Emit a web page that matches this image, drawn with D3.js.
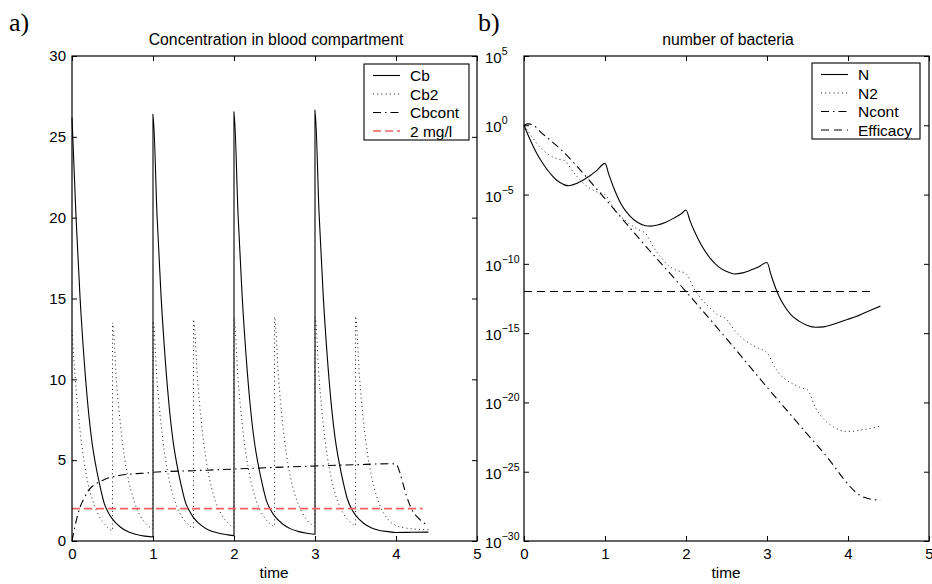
<!DOCTYPE html>
<html><head><meta charset="utf-8">
<script src="https://cdn.jsdelivr.net/npm/d3@7"></script>
<style>body{margin:0;background:#fff}svg{display:block}</style>
</head><body><svg id="c" width="932" height="584"></svg>
<script>
// ---------- data: panel a (concentration, mg/l) ----------
const xTicks = [0, 1, 2, 3, 4, 5];
const yTicksA = [0, 5, 10, 15, 20, 25, 30];
const legendA = ["Cb", "Cb2", "Cbcont", "2 mg/l"];
const cbTime = [0,0.05,0.1,0.15,0.2,0.25,0.3,0.35,0.4,0.45,0.5,0.6,0.7,0.8,0.9,1.0,
  1.0,1.05,1.1,1.15,1.2,1.25,1.3,1.35,1.4,1.45,1.5,1.6,1.7,1.8,1.9,2.0,
  2.0,2.05,2.1,2.15,2.2,2.25,2.3,2.35,2.4,2.45,2.5,2.6,2.7,2.8,2.9,3.0,
  3.0,3.05,3.1,3.15,3.2,3.25,3.3,3.35,3.4,3.45,3.5,3.6,3.7,3.8,3.9,4.0,4.2,4.4];
const cbValue = [26.2,20.0,15.0,11.2,8.2,6.0,4.5,3.3,2.3,1.75,1.35,0.85,0.55,0.4,0.3,0.25,
  26.4,20.1,15.1,11.3,8.3,6.1,4.6,3.4,2.4,1.85,1.45,0.95,0.65,0.5,0.4,0.33,
  26.55,20.2,15.2,11.4,8.4,6.2,4.7,3.5,2.5,1.95,1.55,1.05,0.75,0.58,0.48,0.42,
  26.65,20.3,15.3,11.5,8.5,6.3,4.8,3.6,2.6,2.0,1.6,1.1,0.8,0.65,0.58,0.53,0.54,0.55];
const cb2Time = [0,0.05,0.1,0.15,0.2,0.25,0.3,0.35,0.4,0.45,0.5,
  0.5,0.55,0.6,0.65,0.7,0.75,0.8,0.85,0.9,0.95,1.0,
  1.0,1.05,1.1,1.15,1.2,1.25,1.3,1.35,1.4,1.45,1.5,
  1.5,1.55,1.6,1.65,1.7,1.75,1.8,1.85,1.9,1.95,2.0,
  2.0,2.05,2.1,2.15,2.2,2.25,2.3,2.35,2.4,2.45,2.5,
  2.5,2.55,2.6,2.65,2.7,2.75,2.8,2.85,2.9,2.95,3.0,
  3.0,3.05,3.1,3.15,3.2,3.25,3.3,3.35,3.4,3.45,3.5,
  3.5,3.55,3.6,3.65,3.7,3.75,3.8,3.85,3.9,3.95,4.0,4.1,4.2,4.3,4.4];
const cb2Value = [13.0,9.4,6.8,4.9,3.5,2.6,1.9,1.4,1.05,0.8,0.65,
  13.5,9.8,7.1,5.1,3.7,2.75,2.0,1.5,1.15,0.9,0.75,
  13.6,9.9,7.2,5.2,3.8,2.8,2.05,1.55,1.2,0.95,0.8,
  13.7,10.0,7.2,5.2,3.8,2.8,2.1,1.6,1.25,1.0,0.85,
  13.8,10.0,7.3,5.3,3.9,2.9,2.15,1.65,1.3,1.05,0.9,
  13.85,10.1,7.3,5.3,3.9,2.9,2.2,1.7,1.3,1.05,0.9,
  13.85,10.1,7.3,5.3,3.9,2.9,2.2,1.7,1.35,1.1,0.95,
  13.9,10.1,7.35,5.35,3.95,2.95,2.2,1.7,1.35,1.1,0.95,0.82,0.75,0.72,0.7];
const cbcontTime = [0,0.05,0.1,0.15,0.2,0.3,0.4,0.5,0.6,0.7,0.8,0.9,1.0,1.5,2.0,2.5,3.0,3.5,3.95,4.0,4.05,4.1,4.15,4.2,4.25,4.3,4.35,4.4];
const cbcontValue = [0,1.2,2.1,2.65,3.1,3.55,3.8,3.97,4.07,4.13,4.17,4.2,4.25,4.35,4.45,4.55,4.64,4.72,4.78,4.75,4.2,3.3,2.5,1.9,1.55,1.3,1.1,0.95];
const thresholdTime = [0, 4.33];
const thresholdValue = [2, 2];

// ---------- data: panel b (number of bacteria, log10) ----------
const yTicksB = [5, 0, -5, -10, -15, -20, -25, -30];
const legendB = ["N", "N2", "Ncont", "Efficacy"];
const nTime = [0,0.05,0.1,0.15,0.2,0.25,0.3,0.35,0.4,0.45,0.5,0.55,0.6,0.7,0.8,0.9,1.0,
  1.05,1.1,1.15,1.2,1.3,1.4,1.5,1.56,1.65,1.75,1.85,1.95,2.0,
  2.05,2.1,2.15,2.2,2.3,2.4,2.5,2.6,2.7,2.8,2.9,3.0,
  3.05,3.1,3.15,3.2,3.3,3.4,3.5,3.6,3.7,3.8,3.9,4.0,4.1,4.2,4.3,4.4];
const nLog10 = [0,-0.7,-1.35,-1.95,-2.45,-2.9,-3.3,-3.65,-3.95,-4.15,-4.3,-4.36,-4.3,-4.05,-3.7,-3.25,-2.75,
  -3.6,-4.4,-5.1,-5.7,-6.5,-7.0,-7.25,-7.28,-7.2,-7.0,-6.7,-6.35,-6.11,
  -6.9,-7.6,-8.2,-8.75,-9.6,-10.2,-10.55,-10.73,-10.65,-10.45,-10.2,-9.9,
  -10.8,-11.65,-12.35,-12.9,-13.7,-14.15,-14.45,-14.58,-14.55,-14.4,-14.2,-14.0,-13.8,-13.55,-13.3,-13.05];
const n2Time = [0,0.1,0.2,0.3,0.4,0.5,0.6,0.7,0.8,0.9,1.0,1.1,1.2,1.3,1.4,1.5,1.6,1.7,1.8,1.9,2.0,
  2.1,2.2,2.3,2.4,2.5,2.6,2.7,2.8,2.9,3.0,3.1,3.2,3.3,3.4,3.5,3.6,3.7,3.8,3.9,4.0,4.1,4.2,4.3,4.4];
const n2Log10 = [0,-0.85,-1.6,-2.1,-2.4,-2.55,-3.3,-4.0,-4.5,-4.8,-5.0,-5.9,-6.6,-7.1,-7.5,-7.8,-8.8,-9.6,-10.2,-10.5,-10.7,
  -11.8,-12.6,-13.2,-13.7,-14.0,-14.8,-15.4,-15.8,-16.1,-16.4,-17.5,-18.2,-18.6,-18.9,-19.1,-20.4,-21.2,-21.7,-22.0,-22.1,-22.05,-21.95,-21.85,-21.7];
const ncontTime = [0,0.05,0.1,0.15,0.2,0.3,0.4,0.5,0.75,1.0,1.5,2.0,2.5,3.0,3.5,3.75,4.0,4.1,4.2,4.3,4.4];
const ncontLog10 = [0,0.1,0.05,-0.15,-0.45,-0.95,-1.45,-2.0,-3.6,-5.3,-8.7,-12.0,-15.4,-18.9,-22.3,-24.0,-25.9,-26.5,-26.85,-27.0,-27.05];
const efficacyTime = [0, 4.3];
const efficacyLog10 = [-12, -12];

// ---------- drawing ----------
const FONT = '"Liberation Sans", Arial, Helvetica, sans-serif';
const svg = d3.select("#c");
const W = 405, TOP = 56, BOT = 541;
const zip = (t, v) => t.map((d, i) => [d, v[i]]);

function frame(x0) {
  svg.append("rect").attr("x", x0).attr("y", TOP).attr("width", W).attr("height", BOT - TOP)
    .attr("fill", "none").attr("stroke", "#000").attr("stroke-width", 1.2);
}
function styleAxis(g) {
  g.select(".domain").remove();
  g.selectAll("line").attr("stroke", "#000");
  g.selectAll("text").attr("font-family", FONT).attr("font-size", 15).attr("fill", "#000");
}

// panel a
const xA = d3.scaleLinear().domain([0, 5]).range([72, 72 + W]);
const yA = d3.scaleLinear().domain([0, 30]).range([BOT, TOP]);
svg.append("g").attr("transform", `translate(0,${BOT})`)
  .call(d3.axisBottom(xA).tickValues(xTicks).tickSize(-5).tickPadding(7).tickFormat(d3.format("d"))).call(styleAxis);
svg.append("g").attr("transform", `translate(0,${TOP})`)
  .call(d3.axisTop(xA).tickValues(xTicks).tickSize(-5).tickFormat("")).call(styleAxis);
svg.append("g").attr("transform", `translate(72,0)`)
  .call(d3.axisLeft(yA).tickValues(yTicksA).tickSize(-5).tickPadding(6).tickFormat(d3.format("d"))).call(styleAxis);
svg.append("g").attr("transform", `translate(${72 + W},0)`)
  .call(d3.axisRight(yA).tickValues(yTicksA).tickSize(-5).tickFormat("")).call(styleAxis);

const lineA = d3.line().x(d => xA(d[0])).y(d => yA(d[1])).curve(d3.curveMonotoneX);
const stylesA = [
  {stroke: "#000", dash: null, w: 1.1},
  {stroke: "#222", dash: "1,3.2", w: 1},
  {stroke: "#000", dash: "8,4,1.5,4", w: 1.1},
  {stroke: "#f06262", dash: "8,4", w: 1.6}
];
const seriesA = [zip(cbTime, cbValue), zip(cb2Time, cb2Value), zip(cbcontTime, cbcontValue), zip(thresholdTime, thresholdValue)];
seriesA.forEach((s, i) => {
  svg.append("path").attr("d", (i === 3 ? d3.line().x(d => xA(d[0])).y(d => yA(d[1])) : lineA)(s))
    .attr("fill", "none").attr("stroke", stylesA[i].stroke).attr("stroke-width", stylesA[i].w)
    .attr("stroke-dasharray", stylesA[i].dash);
});
frame(72);

// panel b
const xB = d3.scaleLinear().domain([0, 5]).range([524, 524 + W]);
const yB = d3.scaleLog().domain([1e-30, 1e5]).range([BOT, TOP]);
const tickValsB = yTicksB.map(e => Math.pow(10, e));
svg.append("g").attr("transform", `translate(0,${BOT})`)
  .call(d3.axisBottom(xB).tickValues(xTicks).tickSize(-5).tickPadding(7).tickFormat(d3.format("d"))).call(styleAxis);
svg.append("g").attr("transform", `translate(0,${TOP})`)
  .call(d3.axisTop(xB).tickValues(xTicks).tickSize(-5).tickFormat("")).call(styleAxis);
const gLB = svg.append("g").attr("transform", `translate(524,0)`)
  .call(d3.axisLeft(yB).tickValues(tickValsB).tickSize(-5).tickFormat("")).call(styleAxis);
svg.append("g").attr("transform", `translate(${524 + W},0)`)
  .call(d3.axisRight(yB).tickValues(tickValsB).tickSize(-5).tickFormat("")).call(styleAxis);
yTicksB.forEach(e => {
  const t = svg.append("text").attr("x", 485).attr("y", yB(Math.pow(10, e)) + 7)
    .attr("font-family", FONT).attr("font-size", 15).attr("fill", "#000");
  t.append("tspan").text("10");
  t.append("tspan").attr("dy", -8).attr("font-size", 10.5).text(String(e).replace("-", "\u2212"));
});

const lineB = d3.line().x(d => xB(d[0])).y(d => yB(Math.pow(10, d[1]))).curve(d3.curveMonotoneX);
const stylesB = [
  {stroke: "#000", dash: null, w: 1.1},
  {stroke: "#222", dash: "1,3.2", w: 1},
  {stroke: "#000", dash: "8,4,1.5,4", w: 1.1},
  {stroke: "#000", dash: "8,5", w: 1.1}
];
const seriesB = [zip(nTime, nLog10), zip(n2Time, n2Log10), zip(ncontTime, ncontLog10), zip(efficacyTime, efficacyLog10)];
seriesB.forEach((s, i) => {
  svg.append("path").attr("d", lineB(s))
    .attr("fill", "none").attr("stroke", stylesB[i].stroke).attr("stroke-width", stylesB[i].w)
    .attr("stroke-dasharray", stylesB[i].dash);
});
frame(524);

// legends
function legend(x, y, w, names, styles) {
  const g = svg.append("g").attr("transform", `translate(${x},${y})`);
  g.append("rect").attr("width", w).attr("height", 76).attr("fill", "#fff").attr("stroke", "#000").attr("stroke-width", 1.1);
  names.forEach((n, i) => {
    const cy = 11.5 + 18.5 * i;
    g.append("line").attr("x1", 9).attr("x2", 36).attr("y1", cy).attr("y2", cy)
      .attr("stroke", styles[i].stroke).attr("stroke-width", styles[i].w).attr("stroke-dasharray", styles[i].dash);
    g.append("text").attr("x", 46).attr("y", cy + 5.5).text(n)
      .attr("font-family", FONT).attr("font-size", 15.5).attr("fill", "#000");
  });
}
legend(364, 64, 105, legendA, stylesA);
legend(812, 63, 108, legendB, stylesB);

// titles and labels
function txt(x, y, s, size, anchor, family) {
  svg.append("text").attr("x", x).attr("y", y).text(s).attr("font-size", size)
    .attr("text-anchor", anchor).attr("font-family", family || FONT).attr("fill", "#000");
}
txt(276, 45, "Concentration in blood compartment", 15.8, "middle");
txt(728, 45, "number of bacteria", 15.8, "middle");
txt(274, 578, "time", 15.4, "middle");
txt(726, 578, "time", 15.4, "middle");
txt(9, 31, "a)", 26, "start", '"Liberation Serif", "DejaVu Serif", serif');
txt(478, 31, "b)", 26, "start", '"Liberation Serif", "DejaVu Serif", serif');
</script></body></html>
